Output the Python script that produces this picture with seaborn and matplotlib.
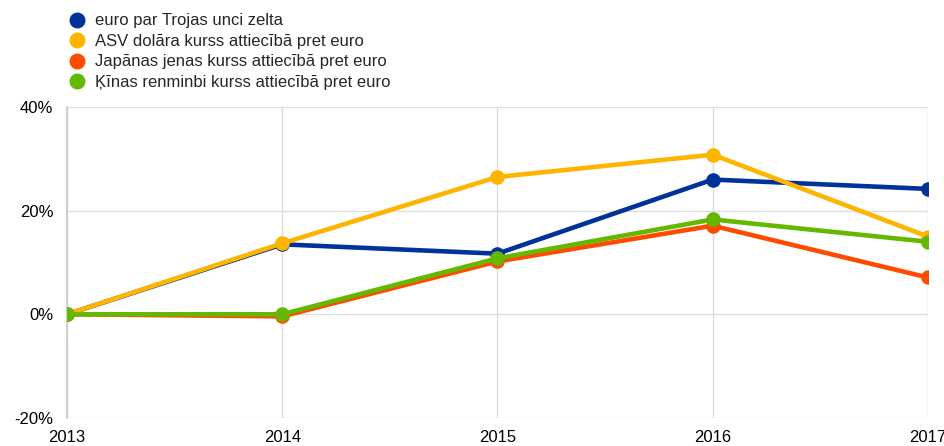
import matplotlib
matplotlib.use("Agg")
import matplotlib.pyplot as plt
import pandas as pd
import seaborn as sns
from matplotlib.lines import Line2D
from matplotlib.ticker import FuncFormatter

years = [2013, 2014, 2015, 2016, 2017]
gold = [0.0, 13.5, 11.7, 26.0, 24.2]
usd = [0.0, 13.7, 26.5, 30.8, 15.0]
jpy = [0.0, -0.4, 10.2, 17.1, 7.1]
cny = [0.0, 0.0, 10.8, 18.3, 14.0]

labels = [
    "euro par Trojas unci zelta",
    "ASV dolāra kurss attiecībā pret euro",
    "Japānas jenas kurss attiecībā pret euro",
    "Ķīnas renminbi kurss attiecībā pret euro",
]
colors = ["#003299", "#ffb400", "#ff4b00", "#65b800"]

sns.set_theme(style="white")
plt.rcParams["font.family"] = ["Liberation Sans", "DejaVu Sans"]

frames = []
for lab, vals in zip(labels, [gold, usd, jpy, cny]):
    frames.append(pd.DataFrame({"year": years, "value": vals, "series": lab}))
df = pd.concat(frames, ignore_index=True)

fig = plt.figure(figsize=(9.44, 4.46), dpi=100)
ax = fig.add_axes([0.071, 0.063, 0.912, 0.697])

sns.lineplot(
    data=df, x="year", y="value", hue="series", hue_order=labels,
    palette=colors, marker="o", markersize=10.5, markeredgewidth=0,
    linewidth=3.3, ax=ax, legend=False, zorder=3,
)

ax.set_xlim(2013, 2017)
ax.set_ylim(-20, 40)
ax.set_xticks(years)
ax.set_yticks([-20, 0, 20, 40])
ax.yaxis.set_major_formatter(FuncFormatter(lambda v, _: f"{v:.0f}%"))
ax.grid(True, color="#dddddd", linewidth=1)
ax.set_axisbelow(True)
for s in ["top", "right", "bottom"]:
    ax.spines[s].set_visible(False)
ax.spines["left"].set_color("#cccccc")
ax.tick_params(axis="both", length=0, labelsize=12, colors="#000000")
ax.tick_params(axis="x", pad=9)
ax.tick_params(axis="y", pad=10)
ax.set_xlabel("")
ax.set_ylabel("")

handles = [
    Line2D([], [], linestyle="none", marker="o", markersize=11.5,
           markerfacecolor=c, markeredgewidth=0)
    for c in colors
]
fig.legend(
    handles, labels, loc="upper left", bbox_to_anchor=(0.064, 0.985),
    frameon=False, fontsize=12, handletextpad=0.5, labelspacing=0.33,
    borderaxespad=0, handlelength=1.2,
)

fig.savefig("out.png", dpi=100)
